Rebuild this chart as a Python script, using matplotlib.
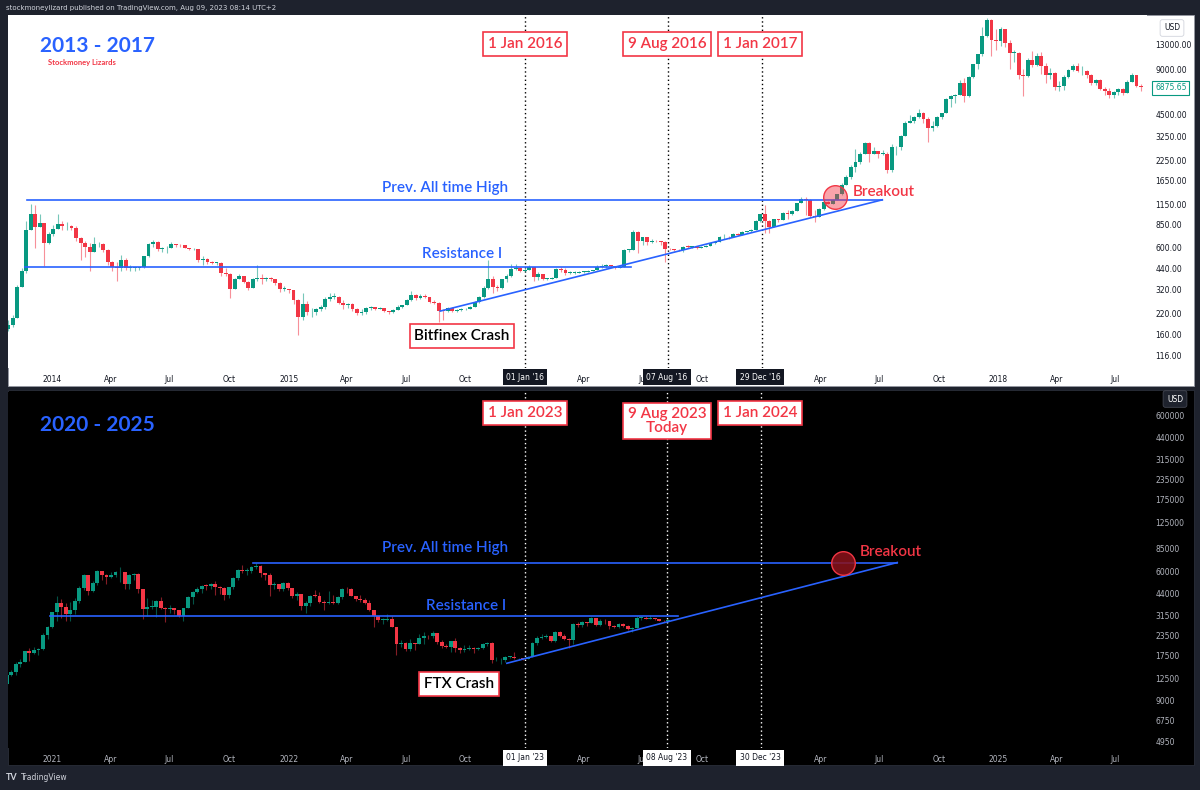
import matplotlib
matplotlib.use("Agg")
import matplotlib.pyplot as plt
import matplotlib.dates as mdates
from matplotlib.patches import Rectangle
from matplotlib.ticker import NullLocator
import numpy as np
import pandas as pd

plt.rcParams['font.family'] = ['Lato', 'DejaVu Sans']

# ---------------- data: weekly BTC candles ----------------
# 2013 - 2018 cycle, weeks starting Monday 2013-10-21
top_start = "2013-10-21"
top_first_open = 175
top_close = [
    185, 205,                                   # 2013 Oct
    330, 420, 790, 1000,
    820, 870, 640, 740, 800,
    860, 830, 830, 810,                         # 2014
    690, 640, 610, 560,
    630, 635, 580, 480, 450,
    440, 500, 440, 440,
    440, 445, 525, 630,
    655, 590, 595, 600, 630,
    625, 620, 600, 585,
    590, 500, 505, 480,
    475, 475, 410, 405, 320,
    375, 390, 355, 325,
    370, 380, 375, 380,
    375, 350, 320, 320, 315,
    270, 210, 255, 225,                         # 2015
    225, 235, 245, 275,
    285, 285, 260, 250, 255,
    235, 222, 226, 240,
    242, 237, 240, 230,
    225, 233, 245, 250, 270,
    292, 280, 290, 282,
    263, 258, 230, 229, 240,
    230, 232, 235, 238,
    245, 262, 283, 325,
    375, 330, 325, 370, 390,
    435, 440, 420, 430,
    450, 385, 405, 375,                         # 2016
    375, 380, 435, 430, 410,
    410, 410, 415, 415,
    420, 425, 450, 455,
    460, 455, 440, 450, 580,
    580, 760, 660, 700,
    650, 665, 660, 655,
    590, 585, 580, 575, 610,
    605, 610, 600, 610,
    615, 640, 655, 700, 705,
    700, 740, 730, 765,
    770, 790, 900, 995,
    900, 820, 920, 915, 1020,                   # 2017
    995, 1050, 1180, 1250,
    1230, 970, 960, 1080,
    1200, 1170, 1240, 1350,
    1550, 1750, 2050, 2200, 2500,
    2950, 2500, 2600, 2500,
    2500, 1950, 2750, 2750, 3250,
    4000, 4100, 4350, 4600,
    4200, 3700, 3800, 4350,
    4600, 5700, 6000, 6100, 7300,
    5950, 8000, 9700, 11300,
    15000, 19000, 14000, 13800,
    16500, 13500, 11500, 11500, 8200,           # 2018
    8100, 10400, 9600, 11000,
    9500, 8200, 8500, 6900,
    7000, 8000, 8900, 9400, 8700,
    8700, 8200, 7300, 7700,
    6700, 6500, 6100, 6400,
    6700, 6300, 7400, 8200, 7000,
    6875.65,
]
top_high = [
    200, 215,
    340, 440, 900, 1163,
    1150, 1000, 870, 760, 840,
    1000, 900, 880, 850,
    830, 700, 660, 640,
    700, 650, 640, 590, 490,
    480, 540, 510, 460,
    450, 450, 530, 640,
    670, 660, 610, 615, 650,
    635, 630, 625, 600,
    595, 590, 525, 515,
    490, 485, 480, 440, 410,
    380, 400, 390, 360,
    380, 460, 400, 385,
    385, 375, 355, 335, 320,
    300, 275, 300, 265,
    240, 240, 250, 285,
    300, 300, 290, 270, 260,
    260, 240, 238, 245,
    247, 245, 242, 240,
    230, 237, 252, 252, 275,
    310, 295, 295, 298,
    285, 270, 262, 235, 245,
    245, 235, 240, 240,
    248, 265, 290, 335,
    500, 390, 340, 375, 400,
    465, 465, 445, 440,
    460, 450, 415, 400,
    380, 385, 440, 445, 440,
    420, 420, 420, 420,
    425, 430, 460, 470,
    465, 462, 455, 455, 590,
    590, 780, 770, 710,
    705, 680, 675, 665,
    660, 600, 590, 585, 615,
    625, 615, 610, 615,
    620, 645, 660, 720, 740,
    720, 750, 750, 775,
    775, 795, 910, 1000,
    1150, 910, 925, 925, 1035,
    1060, 1060, 1190, 1290,
    1300, 1250, 1060, 1100,
    1210, 1220, 1250, 1360,
    1600, 1800, 2100, 2700, 2550,
    2980, 2980, 2760, 2600,
    2650, 2550, 2900, 2800, 3300,
    4100, 4480, 4400, 4900,
    4700, 4350, 4100, 4400,
    4650, 5850, 6100, 6200, 7600,
    7900, 8100, 9750, 11400,
    17000, 19700, 19300, 16500,
    17200, 16500, 14000, 12000, 11700,
    9000, 10700, 11800, 11500,
    11700, 9900, 9200, 8600,
    7500, 8200, 9000, 9750, 9950,
    9450, 8900, 8400, 7800,
    7800, 6850, 6800, 6450,
    6800, 6800, 7600, 8500, 8250,
    7150,
]
top_low = [
    170, 180,
    205, 330, 410, 780,
    600, 820, 455, 630, 720,
    800, 790, 790, 780,
    660, 500, 520, 420,
    560, 610, 560, 460, 420,
    360, 420, 430, 420,
    420, 430, 440, 520,
    610, 570, 560, 550, 600,
    610, 610, 595, 575,
    575, 480, 460, 470,
    465, 460, 390, 390, 278,
    320, 370, 350, 315,
    325, 360, 345, 360,
    360, 340, 305, 310, 300,
    255, 160, 200, 215,
    210, 215, 230, 235,
    265, 275, 255, 235, 240,
    230, 215, 216, 218,
    232, 233, 235, 225,
    220, 223, 232, 240, 250,
    265, 270, 275, 278,
    258, 255, 195, 200, 225,
    225, 225, 228, 234,
    235, 245, 260, 280,
    320, 300, 310, 320, 355,
    385, 430, 415, 415,
    425, 360, 365, 365,
    365, 370, 380, 415, 395,
    400, 405, 410, 410,
    415, 420, 425, 440,
    440, 450, 435, 438, 450,
    560, 580, 550, 620,
    620, 640, 650, 620,
    480, 575, 570, 570, 565,
    600, 600, 590, 595,
    605, 615, 630, 650, 680,
    685, 700, 725, 730,
    755, 765, 790, 890,
    750, 750, 820, 880, 910,
    930, 990, 1050, 1180,
    980, 960, 890, 950,
    1070, 1160, 1170, 1240,
    1340, 1550, 1700, 1900, 2150,
    2500, 2200, 2500, 2350,
    2450, 1850, 1900, 2450, 2650,
    3250, 3950, 3950, 4300,
    4000, 2970, 3500, 3750,
    4200, 4600, 5100, 5400, 6100,
    5500, 5900, 7900, 9000,
    11000, 14700, 11000, 12000,
    12900, 12700, 9000, 10000, 7800,
    6000, 8000, 9300, 9400,
    8400, 7300, 7800, 6600,
    6500, 6600, 7850, 8700, 8600,
    8300, 7900, 7050, 7050,
    6600, 6100, 5800, 5800,
    6100, 6100, 6300, 7400, 6900,
    6500,
]

# 2020 - 2023 cycle, weeks starting Monday 2020-10-19
bot_start = "2020-10-19"
bot_first_open = 11500
bot_close = [
    13100, 13800,                               # 2020
    15500, 16000, 18700, 18200, 19100,
    19300, 23800, 26500, 33000,
    38200, 36000, 32300, 34300,                 # 2021
    39300, 47200, 57500, 45200,
    51200, 61200, 57500, 55800, 57100,
    59800, 60000, 50100, 57800,
    58200, 46400, 34700, 35700, 35800,
    39100, 35500, 34700, 35300,
    34300, 31500, 35400, 41500,
    44600, 47000, 49000, 48800, 49900,
    48300, 47300, 42800, 48200,
    54900, 61500, 61000, 61300,
    64900, 65500, 59000, 57200, 49400,
    50100, 46700, 50800, 47300,
    41900, 43100, 36300, 37900, 42400,          # 2022
    42200, 38400, 37700, 38400,
    37800, 41300, 46800, 46400,
    42200, 40400, 39500, 37700,
    34300, 31300, 29500, 29500, 29900,
    26600, 20600, 21000, 19300,
    20900, 20800, 22600, 23300,
    23200, 24400, 21500, 20000, 19800,
    21800, 19400, 18900, 19300,
    19400, 19200, 19600, 20600, 21100,
    16300, 16300, 16400, 17100,
    17100, 16800, 16800, 16600,
    17100, 20900, 22700, 23000, 23300,          # 2023
    21800, 24600, 23500, 22400,
    22100, 28000, 27500, 28500,
    28300, 30300, 27600, 29200,
    28900, 26900, 26800, 28000, 27100,
    25900, 26300, 30500, 30600,
    30200, 30300, 29800, 29300, 29000,
    29700,
]
bot_high = [
    13350, 14100,
    15950, 16500, 18800, 19400, 19900,
    19400, 24300, 26900, 33300,
    41900, 40000, 37800, 38500,
    40900, 49000, 58300, 57500,
    52600, 61800, 60600, 58300, 60000,
    61300, 64800, 57500, 58400,
    59400, 59500, 46600, 40800, 39500,
    39900, 41300, 35600, 36600,
    35400, 34100, 35400, 42300,
    45300, 48100, 49300, 50500, 51000,
    52900, 48800, 47800, 48400,
    56100, 62900, 67000, 63700,
    65600, 69000, 66400, 59200, 59000,
    51900, 50300, 52100, 52000,
    47500, 44400, 43500, 38900, 42600,
    45800, 44800, 39800, 45400,
    42600, 42300, 47400, 48200,
    47500, 42400, 42900, 40700,
    39900, 34400, 31300, 30600, 32300,
    31500, 26800, 21900, 21500,
    22400, 21000, 24200, 24600,
    23600, 25100, 24400, 21900, 20600,
    21800, 22700, 19900, 20400,
    20500, 19700, 19700, 21000, 21400,
    21500, 17200, 16800, 17400,
    17400, 18400, 16900, 16800,
    17300, 21300, 23300, 23900, 24200,
    23500, 25200, 25200, 24000,
    22600, 28400, 28800, 29200,
    28800, 31000, 30500, 30000,
    29800, 29000, 27500, 28300, 28400,
    27400, 26800, 31400, 31300,
    31500, 31800, 30400, 29900, 29700,
    30200,
]
bot_low = [
    11400, 12900,
    13200, 14800, 15800, 16200, 18000,
    17600, 19000, 22400, 26100,
    29000, 30400, 28900, 29200,
    32300, 37900, 45800, 43000,
    44900, 49200, 53000, 50400, 55000,
    55500, 52000, 47000, 47000,
    53000, 43800, 30000, 31200, 34800,
    31000, 34800, 28800, 32700,
    32200, 31000, 29300, 35200,
    37500, 43800, 43900, 46300, 46600,
    42800, 43400, 39600, 40800,
    46900, 53700, 59500, 57800,
    59500, 62300, 55600, 53500, 42000,
    46800, 45500, 45600, 45700,
    40700, 39700, 34000, 32900, 36300,
    41700, 38000, 34300, 37300,
    37200, 37600, 40500, 44200,
    41900, 39200, 38600, 37600,
    33700, 26700, 28700, 28000, 29300,
    26500, 17600, 19700, 18700,
    18800, 18900, 20800, 20700,
    22400, 22700, 20800, 19600, 19600,
    18500, 18300, 18100, 18500,
    19000, 18200, 18900, 19200, 20100,
    15600, 16100, 15500, 16000,
    16900, 16500, 16400, 16400,
    16500, 17100, 20400, 22300, 22500,
    21400, 21400, 22900, 21900,
    19600, 20600, 26600, 26600,
    27200, 28200, 27100, 26900,
    27900, 25800, 26300, 26100, 26600,
    25400, 24800, 26200, 29600,
    29800, 29900, 29600, 28900, 28600,
    28700,
]

# price axis labels
top_yticks = [116, 160, 220, 320, 440, 600, 850, 1150, 1650, 2250, 3250, 4500, 9000, 13000]
bot_yticks = [4950, 6750, 9000, 12500, 17500, 23500, 31500, 44000, 60000, 85000,
              125000, 175000, 235000, 315000, 440000, 600000]

# drawn levels (date, price)
top_ath = (["2013-11-22", "2017-07-06"], 1240)
top_res = (["2013-11-19", "2016-06-12"], 447)
top_trend = (["2015-08-23", "2017-07-06"], [229, 1240])
top_breakout = ("2017-04-24", 1290)
bot_ath = (["2021-11-07", "2024-07-29"], 69000)
bot_res = (["2020-12-29", "2023-08-25"], 31300)
bot_trend = (["2022-12-04", "2024-07-29"], [15600, 69000])
bot_breakout = ("2024-05-06", 69000)

top_marks = ["2016-01-01", "2016-08-09", "2017-01-01"]
bot_marks = ["2023-01-01", "2023-08-09", "2024-01-01"]

UP = "#089981"
DOWN = "#f23645"
BLUE = "#2962ff"
RED = "#f23645"
FRAME = "#1e222d"

W, H = 1200, 790
PX_DAY = 0.6474


def fx(px):
    return px / W


def fy(py):
    return 1 - py / H


def draw_candles(ax, start, first_open, closes, highs, lows):
    n = min(len(closes), len(highs), len(lows))
    dates = pd.date_range(start, periods=n, freq="7D")
    x = mdates.date2num(dates) + 3.5
    c = np.array(closes[:n], float)
    o = np.concatenate([[first_open], c[:-1]])
    h = np.maximum(np.array(highs[:n], float), np.maximum(o, c))
    l = np.minimum(np.array(lows[:n], float), np.minimum(o, c))
    col = np.where(c >= o, UP, DOWN)
    ax.vlines(x, l, h, colors=col, lw=0.8, alpha=0.55, zorder=2)
    bottom = np.minimum(o, c)
    height = np.maximum(np.abs(c - o), bottom * 0.01)
    ax.bar(x, height, bottom=bottom, width=6.0, color=col, linewidth=0, zorder=3)


def setup_axis(ax, center, years, hide, ylog, yticks, ylabels, fg):
    d0 = mdates.date2num(pd.Timestamp(center))
    ax.set_yscale("log")
    ax.set_ylim(10 ** ylog[0], 10 ** ylog[1])
    for s in ax.spines.values():
        s.set_visible(False)
    ax.yaxis.tick_right()
    ax.set_yticks(yticks)
    ax.set_yticklabels(ylabels)
    ax.yaxis.set_minor_locator(NullLocator())
    ticks, labels = [], []
    for y in years:
        for m, name in [(1, str(y)), (4, "Apr"), (7, "Jul"), (10, "Oct")]:
            if m == 1 and y in hide:
                continue
            ticks.append(mdates.date2num(pd.Timestamp(y, m, 1)))
            labels.append(name)
    ax.set_xticks(ticks)
    ax.set_xticklabels(labels)
    ax.set_xlim(d0 - 517 / PX_DAY, d0 + 622 / PX_DAY)
    ax.tick_params(axis="y", length=0, pad=6, labelsize=5.5, labelcolor=fg)
    ax.tick_params(axis="x", length=0, pad=5, labelsize=5.5, labelcolor=fg)
    for lab in ax.get_xticklabels() + ax.get_yticklabels():
        lab.set_fontfamily("DejaVu Sans")


def draw_levels(ax, ath, res, trend, brk, circ_fc):
    ax.plot(pd.to_datetime(ath[0]), [ath[1]] * 2, color=BLUE, lw=1.2, zorder=4)
    ax.plot(pd.to_datetime(res[0]), [res[1]] * 2, color=BLUE, lw=1.2, zorder=4)
    ax.plot(pd.to_datetime(trend[0]), trend[1], color=BLUE, lw=1.2, zorder=4)
    ax.plot([pd.Timestamp(brk[0])], [brk[1]], "o", ms=17, mfc=circ_fc, mec=RED, mew=1, zorder=5)


fig = plt.figure(figsize=(W / 100, H / 100), dpi=100, facecolor=FRAME)

# panel backgrounds
fig.patches.append(Rectangle((fx(8), fy(386)), fx(1194) - fx(8), fy(15) - fy(386),
                             transform=fig.transFigure, fc="white", ec="#9598a1", lw=0.6, zorder=-5))
fig.patches.append(Rectangle((fx(8), fy(765)), fx(1194) - fx(8), fy(390) - fy(765),
                             transform=fig.transFigure, fc="black", ec="#2a2e39", lw=0.6, zorder=-5))

# ---------- top panel ----------
ax1 = fig.add_axes([fx(8), fy(368), fx(1147) - fx(8), fy(15) - fy(368)])
ax1.set_facecolor("white")
setup_axis(ax1, "2016-01-01", range(2014, 2019), (2016, 2017), (1.9847, 4.3117), top_yticks,
           [f"{v:.2f}" for v in top_yticks], "#131722")
draw_candles(ax1, top_start, top_first_open, top_close, top_high, top_low)
draw_levels(ax1, top_ath, top_res, top_trend, top_breakout, (0.95, 0.21, 0.27, 0.45))
for d in top_marks:
    ax1.axvline(pd.Timestamp(d), color="black", lw=1, ls=(0, (1, 2)), zorder=1)

# ---------- bottom panel ----------
ax2 = fig.add_axes([fx(8), fy(748), fx(1147) - fx(8), fy(392) - fy(748)])
ax2.set_facecolor("black")
setup_axis(ax2, "2023-01-01", range(2021, 2026), (2023, 2024), (3.6499, 5.932), bot_yticks,
           [str(v) for v in bot_yticks], "#b2b5be")
draw_candles(ax2, bot_start, bot_first_open, bot_close, bot_high, bot_low)
draw_levels(ax2, bot_ath, bot_res, bot_trend, bot_breakout, (0.55, 0.07, 0.1, 0.85))
for d in bot_marks:
    ax2.axvline(pd.Timestamp(d), color="white", lw=1, ls=(0, (1, 2)), zorder=1)

# ---------- texts ----------
fig.text(fx(6), fy(8), "stockmoneylizard published on TradingView.com, Aug 09, 2023 08:14 UTC+2",
         color="#d1d4dc", fontsize=5, va="center", family="DejaVu Sans")
fig.text(fx(6), fy(778), "TV", color="#d1d4dc", fontsize=6.5, weight="bold", va="center")
fig.text(fx(21), fy(778), "TradingView", color="#d1d4dc", fontsize=5.5, va="center", family="DejaVu Sans")

fig.text(fx(40), fy(46), "2013 - 2017", color=BLUE, fontsize=15, weight="bold", va="center")
fig.text(fx(48), fy(63), "Stockmoney Lizards", color=RED, fontsize=5.5, weight="bold", va="center")
fig.text(fx(40), fy(425), "2020 - 2025", color=BLUE, fontsize=15, weight="bold", va="center")

box = dict(boxstyle="square,pad=0.3", fc="white", ec=RED, lw=1.2)
for (px, py, s) in [(525, 44, "1 Jan 2016"), (667, 44, "9 Aug 2016"), (760, 44, "1 Jan 2017"),
                    (525, 413, "1 Jan 2023"), (667, 421, "9 Aug 2023\nToday"), (760, 413, "1 Jan 2024")]:
    fig.text(fx(px), fy(py), s, color=RED, fontsize=11, weight="semibold", ha="center", va="center",
             bbox=box, linespacing=0.95, zorder=6)

for (px, py, s) in [(525, 377, "01 Jan '16"), (667, 377, "07 Aug '16"), (760, 377, "29 Dec '16")]:
    fig.text(fx(px), fy(py), s, color="white", fontsize=5.5, ha="center", va="center", family="DejaVu Sans",
             bbox=dict(boxstyle="square,pad=0.45", fc="#131722", ec="none"), zorder=6)
for (px, py, s) in [(525, 758, "01 Jan '23"), (667, 758, "08 Aug '23"), (760, 758, "30 Dec '23")]:
    fig.text(fx(px), fy(py), s, color="#131722", fontsize=5.5, ha="center", va="center", family="DejaVu Sans",
             bbox=dict(boxstyle="square,pad=0.45", fc="white", ec="none"), zorder=6)

for (px, py) in [(445, 188), (445, 548)]:
    fig.text(fx(px), fy(py), "Prev. All time High", color=BLUE, fontsize=11, weight="semibold",
             ha="center", va="center")
for (px, py) in [(462, 254), (466, 606)]:
    fig.text(fx(px), fy(py), "Resistance I", color=BLUE, fontsize=11, weight="semibold",
             ha="center", va="center")
for (px, py) in [(853, 192), (860, 552)]:
    fig.text(fx(px), fy(py), "Breakout", color=RED, fontsize=11, weight="semibold", ha="left", va="center")

crash = dict(boxstyle="square,pad=0.3", fc="white", ec=RED, lw=1.2)
fig.text(fx(462), fy(336), "Bitfinex Crash", color="black", fontsize=11, weight="semibold",
         ha="center", va="center", bbox=crash)
fig.text(fx(459), fy(684), "FTX Crash", color="black", fontsize=11, weight="semibold",
         ha="center", va="center", bbox=crash)

# price scale tags
fig.text(fx(1172), fy(28), "USD", color="#131722", fontsize=5.5, ha="center", va="center", family="DejaVu Sans",
         bbox=dict(boxstyle="round,pad=0.5,rounding_size=0.3", fc="white", ec="#d1d4dc", lw=0.6), zorder=6)
fig.text(fx(1175), fy(399), "USD", color="white", fontsize=5.5, ha="center", va="center", family="DejaVu Sans",
         bbox=dict(boxstyle="round,pad=0.5,rounding_size=0.3", fc=FRAME, ec="#434651", lw=0.6), zorder=6)
fig.text(fx(1155), fy(88), f"{top_close[-1]:.2f}", color=UP, fontsize=5.5, ha="left", va="center",
         family="DejaVu Sans", bbox=dict(boxstyle="square,pad=0.35", fc="white", ec=UP, lw=0.8), zorder=6)

fig.savefig("out.png", dpi=100, facecolor=fig.get_facecolor())
